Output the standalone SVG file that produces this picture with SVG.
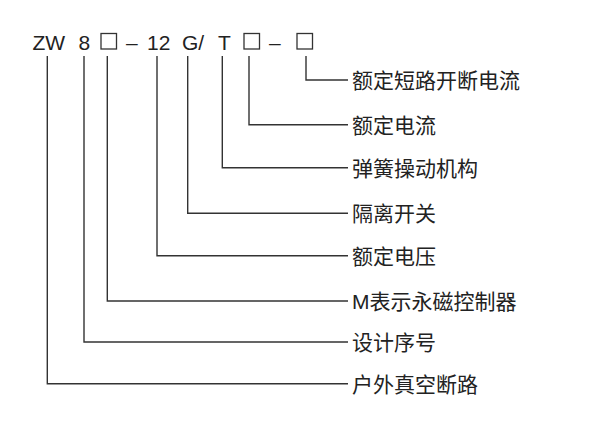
<svg xmlns="http://www.w3.org/2000/svg" width="600" height="422" viewBox="0 0 600 422">
<style>
.code{font-family:"Liberation Sans","Noto Sans CJK SC",sans-serif;font-size:21px;fill:#222}
.lbl{font-family:"Liberation Sans","Noto Sans CJK SC",sans-serif;font-size:21px;fill:#222}
.box{fill:none;stroke:#333;stroke-width:1.3}
.ln{fill:none;stroke:#333;stroke-width:1.4}
</style>
<rect width="600" height="422" fill="#fff"/>
<g id="code">
<text class="code" x="32.5" y="49.5">ZW</text>
<text class="code" x="78.5" y="49.5">8</text>
<rect class="box" x="101" y="33.5" width="15.5" height="15.5"/>
<text class="code" x="126" y="49.5">–</text>
<text class="code" x="147" y="49.5">12</text>
<text class="code" x="182" y="49.5">G/</text>
<text class="code" x="218" y="49.5">T</text>
<rect class="box" x="244" y="33.5" width="15.5" height="15.5"/>
<text class="code" x="269" y="49.5">–</text>
<rect class="box" x="297" y="33.5" width="15.5" height="15.5"/>
</g>
<g id="connectors">
<polyline class="ln" points="306,56 306,80 348,80"/>
<polyline class="ln" points="249,56 249,124.7 348,124.7"/>
<polyline class="ln" points="222.3,56 222.3,167.7 348,167.7"/>
<polyline class="ln" points="187.7,56 187.7,213.3 348,213.3"/>
<polyline class="ln" points="157,56 157,255.7 348,255.7"/>
<polyline class="ln" points="107.3,56 107.3,301 348,301"/>
<polyline class="ln" points="84,56 84,342 348,342"/>
<polyline class="ln" points="47.3,56 47.3,383.7 348,383.7"/>
</g>
<g id="label1"><text class="lbl" x="352" y="88">额定短路开断电流</text></g>
<g id="label2"><text class="lbl" x="352" y="132.7">额定电流</text></g>
<g id="label3"><text class="lbl" x="352" y="175.7">弹簧操动机构</text></g>
<g id="label4"><text class="lbl" x="352" y="221.3">隔离开关</text></g>
<g id="label5"><text class="lbl" x="352" y="263.7">额定电压</text></g>
<g id="label6"><text class="lbl" x="352" y="309">M表示永磁控制器</text></g>
<g id="label7"><text class="lbl" x="352" y="350">设计序号</text></g>
<g id="label8"><text class="lbl" x="352" y="391.7">户外真空断路</text></g>
</svg>
